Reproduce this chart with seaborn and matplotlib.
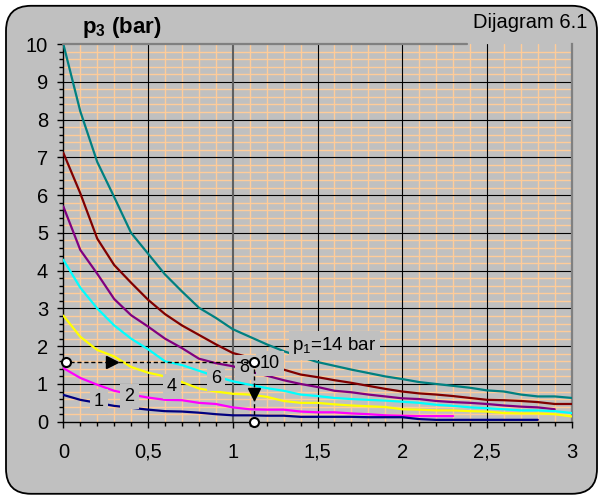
import numpy as np
import pandas as pd
import matplotlib
matplotlib.use("Agg")
import matplotlib.pyplot as plt
from matplotlib.patches import FancyBboxPatch
import seaborn as sns

sns.set_style("white")
plt.rcParams["font.family"] = ["Liberation Sans", "DejaVu Sans"]
plt.rcParams["mathtext.fontset"] = "custom"
plt.rcParams["mathtext.rm"] = "Liberation Sans"
plt.rcParams["mathtext.it"] = "Liberation Sans"
plt.rcParams["mathtext.bf"] = "Liberation Sans:bold"
plt.rcParams["text.color"] = "black"
plt.rcParams["xtick.color"] = "black"
plt.rcParams["ytick.color"] = "black"
plt.rcParams["xtick.labelcolor"] = "black"
plt.rcParams["ytick.labelcolor"] = "black"

# ---- data ----
x_vals = [0.0, 0.1, 0.2, 0.3, 0.4, 0.5, 0.6, 0.7, 0.8, 0.9, 1.0,
          1.1, 1.2, 1.3, 1.4, 1.5, 1.6, 1.7, 1.8, 1.9, 2.0,
          2.1, 2.2, 2.3, 2.4, 2.5, 2.6, 2.7, 2.8, 2.9, 3.0]

p14 = [10.0, 8.22, 6.88, 5.95, 5.0, 4.45, 3.9, 3.45, 3.02, 2.75, 2.45,
       2.25, 2.05, 1.87, 1.72, 1.58, 1.48, 1.38, 1.29, 1.2, 1.13,
       1.05, 1.0, 0.95, 0.9, 0.83, 0.8, 0.72, 0.67, 0.67, 0.63]
p10 = [7.12, 6.05, 4.85, 4.15, 3.68, 3.23, 2.85, 2.55, 2.3, 2.05, 1.82,
       1.7, 1.55, 1.38, 1.25, 1.18, 1.1, 1.03, 0.95, 0.87, 0.8,
       0.75, 0.72, 0.68, 0.63, 0.58, 0.57, 0.55, 0.52, 0.47, 0.47]
p8 = [5.7, 4.55, 3.92, 3.25, 2.82, 2.52, 2.2, 1.95, 1.67, 1.55, 1.47,
      1.33, 1.22, 1.1, 1.0, 0.92, 0.82, 0.78, 0.72, 0.67, 0.62,
      0.6, 0.55, 0.52, 0.5, 0.47, 0.43, 0.4, 0.38, 0.33]
p6 = [4.29, 3.55, 3.0, 2.55, 2.2, 1.92, 1.6, 1.5, 1.35, 1.2, 1.07,
      0.98, 0.89, 0.82, 0.72, 0.68, 0.63, 0.6, 0.58, 0.56, 0.53,
      0.5, 0.45, 0.42, 0.38, 0.36, 0.33, 0.3, 0.3, 0.28, 0.23]
p4 = [2.81, 2.25, 1.9, 1.73, 1.45, 1.3, 1.2, 1.05, 0.88, 0.8, 0.74,
      0.72, 0.66, 0.55, 0.5, 0.5, 0.46, 0.43, 0.41, 0.39, 0.33,
      0.32, 0.3, 0.3, 0.28, 0.27, 0.23, 0.22, 0.22, 0.2, 0.14]
p2 = [1.42, 1.16, 0.98, 0.82, 0.72, 0.64, 0.58, 0.57, 0.5, 0.47, 0.38,
      0.33, 0.32, 0.32, 0.27, 0.25, 0.25, 0.22, 0.2, 0.17, 0.16,
      0.15, 0.15, 0.15]
p1 = [0.71, 0.58, 0.5, 0.42, 0.37, 0.32, 0.28, 0.27, 0.24, 0.2, 0.17,
      0.17, 0.16, 0.16, 0.13, 0.13, 0.13, 0.13, 0.12, 0.12, 0.12,
      0.07, 0.05, 0.05, 0.05, 0.05, 0.05, 0.05, 0.05]

series = [("14", p14, "#008080"), ("10", p10, "#800000"), ("8", p8, "#800080"),
          ("6", p6, "#00FFFF"), ("4", p4, "#FFFF00"), ("2", p2, "#FF00FF"),
          ("1", p1, "#000080")]

curve_labels = ["1", "2", "4", "6", "8", "10"]
label_x = [0.21, 0.39, 0.64, 0.90, 1.07, 1.22]
label_y = [0.53, 0.67, 0.93, 1.15, 1.44, 1.55]

xtick_vals = [0, 0.5, 1, 1.5, 2, 2.5, 3]
xtick_labels = ["0", "0,5", "1", "1,5", "2", "2,5", "3"]
ytick_vals = list(range(0, 11))
x_minor = [i / 10 for i in range(31)]
y_minor = [i / 5 for i in range(51)]

# example path
ex_p3 = 1.57
ex_x = 1.126

# ---- figure ----
fig = plt.figure(figsize=(5.98, 4.95), dpi=100)
fig.patch.set_facecolor("white")
frame = FancyBboxPatch((0.06, 0.012), 5.91, 4.88,
                       boxstyle="round,pad=0,rounding_size=0.25",
                       transform=fig.dpi_scale_trans,
                       facecolor="#C0C0C0", edgecolor="black", lw=1.3, zorder=-5)
fig.patches.append(frame)

ax = fig.add_axes([0.1059, 0.148, 0.8501, 0.763])
ax.set_zorder(1)
ax.set_facecolor("#C0C0C0")
ax.set_axisbelow(True)

for name, vals, col in series:
    df = pd.DataFrame({"x": x_vals[:len(vals)], "y": vals})
    sns.lineplot(data=df, x="x", y="y", ax=ax, color=col, lw=1.6,
                 estimator=None, sort=False, zorder=3)

ax.set_xlim(0, 3)
ax.set_ylim(0, 10)
ax.set_xticks(xtick_vals)
ax.set_xticklabels(xtick_labels)
ax.set_yticks(ytick_vals)
ax.set_xticks(x_minor, minor=True)
ax.set_yticks(y_minor, minor=True)
ax.grid(which="minor", color="#FFCC99", lw=1.0)
ax.grid(which="major", visible=False)
for xv in xtick_vals[1:-1]:
    if xv != 1:
        ax.axvline(xv, color="black", lw=0.8, zorder=1)
for yv in ytick_vals[1:-1]:
    ax.axhline(yv, color="black", lw=0.8, zorder=1)
ax.axvline(1, color="#606060", lw=1.5, zorder=1.5)
ax.set_xlabel("")
ax.set_ylabel("")

ax.tick_params(axis="both", which="both", bottom=True, left=True,
               top=False, right=False)
ax.tick_params(axis="both", which="major", labelsize=14.5, direction="out",
               length=4, width=1, color="black", labelcolor="black")
ax.tick_params(axis="both", which="minor", direction="out", length=3, width=1,
               color="black")
ax.tick_params(axis="x", which="major", pad=11)
ax.tick_params(axis="y", which="major", pad=7)

for s in ["left", "bottom"]:
    ax.spines[s].set_color("black")
    ax.spines[s].set_linewidth(1.0)
ax.spines["top"].set_visible(False)
ax.spines["right"].set_color("#808080")
ax.spines["right"].set_linewidth(1.6)
ax.plot([0, 2.38], [10, 10], color="#808080", lw=1.6, clip_on=False, zorder=4)

# curve labels
for t, lx, ly in zip(curve_labels, label_x, label_y):
    ax.text(lx, ly, t, fontsize=13, ha="center", va="center", zorder=5,
            color="black",
            bbox=dict(facecolor="#C0C0C0", edgecolor="none", pad=3))
ax.text(1.6, 2.02, r"p$_1$=14 bar", fontsize=13.5, ha="center", va="center",
        zorder=5, color="black",
        bbox=dict(facecolor="#C0C0C0", edgecolor="none", pad=2.5))

# example dashed path
ax.plot([0, ex_x], [ex_p3, ex_p3], color="black", lw=1, ls=(0, (3, 2)), zorder=6)
ax.plot([ex_x, ex_x], [ex_p3, 0], color="black", lw=1, ls=(0, (3, 2)), zorder=6)
ax.plot([0.29], [ex_p3], marker=">", ms=8, color="black", zorder=7)
ax.plot([ex_x], [0.74], marker="v", ms=8, color="black", zorder=7)
ax.plot([0.014, ex_x, ex_x], [ex_p3, ex_p3, 0], ls="none", marker="o", ms=6.5,
        mfc="white", mec="black", mew=1.5, clip_on=False, zorder=8)

fig.text(82 / 598, 1 - 28 / 495, r"$\mathbf{p_3}$ (bar)", fontsize=16,
         fontweight="bold", ha="left", va="center", color="black")
fig.text(587 / 598, 1 - 22 / 495, "Dijagram 6.1", fontsize=14.5, ha="right",
         va="center", color="black")

fig.savefig("out.png", dpi=100)
